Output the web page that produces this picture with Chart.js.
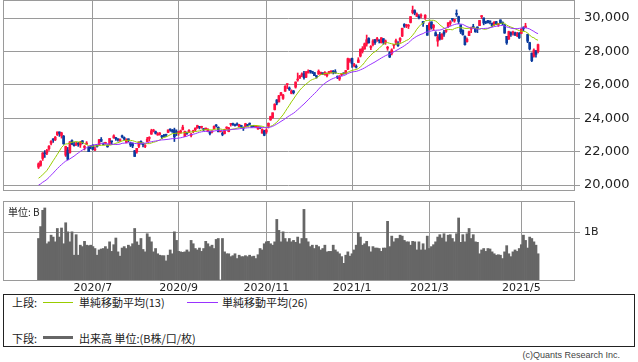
<!DOCTYPE html>
<html lang="ja">
<head>
<meta charset="utf-8">
<title>日経平均 日足</title>
<script src="https://cdn.jsdelivr.net/npm/chart.js@4.4.1/dist/chart.umd.min.js"></script>
<style>
  body { margin: 0; background: #fff; width: 638px; height: 362px; position: relative; overflow: hidden;
         font-family: "Noto Sans CJK JP", "DejaVu Sans", sans-serif; color: #222; }
  canvas { position: absolute; left: 0; }
  #priceChart { top: 0; }
  #volumeChart { top: 196px; }
  .txt { position: absolute; font-size: 11px; line-height: 11px; white-space: nowrap; }
  .unit { left: 8px; top: 207px; font-size: 10px; line-height: 10px; }
  .legend { position: absolute; left: 3px; top: 294px; width: 632px; height: 53px; box-sizing: border-box; border: 1px solid #222; }
  .swatch { position: absolute; }
  .copy { right: 18px; top: 351px; font-family: "Liberation Sans", sans-serif; font-size: 9px; line-height: 9px; color: #444; }
</style>
</head>
<body>
<canvas id="priceChart" width="638" height="192"></canvas>
<canvas id="volumeChart" width="638" height="98"></canvas>
<div class="txt unit">単位: B</div>
<div class="legend"></div>
<div class="txt" style="left:12px;top:297px">上段:</div>
<div class="swatch" style="left:43px;top:302px;width:30px;height:1px;background:#99cc00"></div>
<div class="txt" style="left:79px;top:297px">単純移動平均(13)</div>
<div class="swatch" style="left:187px;top:302px;width:31px;height:1px;background:#9933ff"></div>
<div class="txt" style="left:222px;top:297px">単純移動平均(26)</div>
<div class="txt" style="left:12px;top:333px">下段:</div>
<div class="swatch" style="left:43px;top:336px;width:30px;height:3px;background:#666"></div>
<div class="txt" style="left:79px;top:333px">出来高 単位:(B株/口/枚)</div>
<div class="txt copy">(c)Quants Research Inc.</div>
<script>
// trading days shown, May 26 2020 .. May 18 2021
const tradingDays = [
  ['2020/5', [26,27,28,29]],
  ['2020/6', [1,2,3,4,5,8,9,10,11,12,15,16,17,18,19,22,23,24,25,26,29,30]],
  ['2020/7', [1,2,3,6,7,8,9,10,13,14,15,16,17,20,21,22,27,28,29,30,31]],
  ['2020/8', [3,4,5,6,7,11,12,13,14,17,18,19,20,21,24,25,26,27,28,31]],
  ['2020/9', [1,2,3,4,7,8,9,10,11,14,15,16,17,18,23,24,25,28,29,30]],
  ['2020/10', [1,2,5,6,7,8,9,12,13,14,15,16,19,20,21,22,23,26,27,28,29,30]],
  ['2020/11', [2,4,5,6,9,10,11,12,13,16,17,18,19,20,24,25,26,27,30]],
  ['2020/12', [1,2,3,4,7,8,9,10,11,14,15,16,17,18,21,22,23,24,25,28,29,30]],
  ['2021/1', [4,5,6,7,8,12,13,14,15,18,19,20,21,22,25,26,27,28,29]],
  ['2021/2', [1,2,3,4,5,8,9,10,12,15,16,17,18,19,22,24,25,26]],
  ['2021/3', [1,2,3,4,5,8,9,10,11,12,15,16,17,18,19,22,23,24,25,26,29,30,31]],
  ['2021/4', [1,2,5,6,7,8,9,12,13,14,15,16,19,20,21,22,23,26,27,28,30]],
  ['2021/5', [6,7,10,11,12,13,14,17,18]]
];
const monthLabels = ['2020/7', '2020/9', '2020/11', '2021/1', '2021/3', '2021/5'];

// closes before the first shown day, only used to start the moving averages
const priorCloses = [19550,19290,19897,19669,19281,19138,19429,19262,19783,19771,20194,19619,19675,
                     20179,20391,20366,20267,19915,20037,20134,20433,20595,20552,20388,20742];

const open = [
  21070,21176,21590,21932,
  21910,22170,22500,22750,22704,23012,23175,22960,22925,21787,22090,21931,22662,22394,22379,22439,22397,22645,22250,22448,22278,22317,
  22391,22098,22327,22420,22735,22501,22493,22398,22455,22626,22820,22835,22727,22650,22931,22835,22548,22766,22528,22488,22050,
  21978,22320,22618,22491,22307,22597,22789,23047,23234,23198,23000,23023,22945,22940,22990,23150,23352,23222,23306,23185,
  23120,23150,23320,22900,23159,23161,22966,23193,23304,23417,23468,23450,23376,23357,23218,23206,23178,23380,23575,23460,
  23185,23059,23080,23404,23195,23629,23634,23618,23640,23491,23574,23432,23503,23580,23677,23538,23552,23481,23358,23448,23105,23247,
  23171,23521,23902,24037,24515,25095,24972,25412,25187,25615,26013,25809,25491,25633,25861,26284,26397,26588,26670,
  26456,26720,26827,26773,26733,26539,26643,26672,26720,26619,26546,26738,26774,26792,26784,26496,26342,26618,26694,26694,26936,27436,
  27575,27151,27102,27340,27720,28004,28140,28442,28777,28238,28405,28710,28710,28644,28520,28765,28550,28190,27930,
  27876,28356,28543,28479,28666,28913,29616,29531,29508,29732,30323,30442,30092,30097,30115,29794,30009,29558,
  29323,29769,29433,29119,28613,29015,28744,29158,29201,29488,29681,29931,29822,30226,30079,29589,29259,28894,28586,28949,29334,29464,29379,
  29461,29543,30081,30005,29779,29845,29812,29695,29585,29780,29606,29888,29750,29601,28904,28741,29130,29094,29111,28949,29097,
  29080,29363,29431,29016,28523,27899,27710,28046,28002
];
const high = [
  21328,21456,21942,22062,
  22138,22368,22653,22779,22907,23178,23185,23160,22967,22326,22250,22596,22704,22555,22569,22555,22617,22662,22367,22601,22312,22347,
  22411,22279,22368,22735,22843,22524,22563,22398,22785,22626,23007,22856,22777,22760,22986,22880,22773,22766,22571,22522,22075,
  22197,22592,22650,22528,22424,22854,22893,23339,23338,23233,23140,23146,22976,23035,23034,23302,23364,23330,23406,23302,
  23207,23289,23580,23227,23168,23322,23087,23281,23425,23582,23507,23521,23383,23400,23370,23234,23251,23539,23622,23482,
  23185,23190,23342,23491,23455,23686,23704,23649,23725,23636,23580,23462,23697,23605,23718,23541,23563,23560,23492,23464,23357,23283,
  23361,23722,24121,24325,24867,25114,25370,25554,25433,25960,26057,25874,25698,25661,26178,26706,26561,26716,26805,
  26799,26891,26834,26794,26734,26553,26894,26756,26722,26785,26717,26810,26843,26854,26905,26536,26551,26672,26716,26854,27602,27572,
  27602,27279,27196,27624,28139,28287,28503,28979,28820,28349,28711,28710,28846,28691,28822,28765,28687,28299,27983,
  28157,28406,28734,28595,28821,29388,29664,29626,29615,30084,30714,30492,30306,30211,30252,29804,30200,29558,
  29728,29769,29613,29182,29011,29137,29073,29259,29314,29717,29839,29951,29926,30485,30110,29589,29296,28931,28815,29216,29457,29624,29394,
  29471,29854,30149,30005,29810,29861,29813,29698,29792,29801,29667,29888,29768,29601,28904,29213,29176,29222,29158,29140,29130,
  29360,29478,29685,29031,28550,27906,28147,28052,28441
];
const low = [
  20986,21122,21471,21650,
  21819,22074,22394,22553,22658,22958,22910,22808,22435,21709,21530,21910,22409,22319,22379,22313,22250,22465,22100,22421,21995,22169,
  22095,22060,22261,22407,22585,22400,22434,22258,22418,22439,22799,22665,22619,22607,22823,22691,22523,22590,22301,22235,21710,
  21901,22240,22446,22285,22242,22578,22630,23030,23177,23050,22974,22985,22773,22883,22898,23135,23216,23150,22604,22960,
  22984,23101,23295,22900,23030,23156,22878,23127,23216,23394,23357,23397,23248,23299,23185,23002,23124,23356,23470,23185,
  23185,22948,23054,23338,23185,23526,23571,23518,23573,23487,23415,23264,23491,23518,23592,23457,23480,23467,23333,23372,23100,22948,
  23081,23413,23867,23995,24491,24800,24970,25347,25129,25604,25771,25659,25457,25454,25800,26213,26383,26493,26340,
  26430,26704,26694,26670,26547,26397,26625,26609,26613,26583,26477,26657,26700,26649,26690,26370,26259,26540,26638,26646,26900,27340,
  27042,27073,27002,27340,27667,27899,28133,28312,28490,28111,28326,28414,28599,28504,28500,28430,28422,28066,27629,
  27787,28183,28408,28300,28536,28883,29437,29421,29368,29702,30244,30190,30092,29943,30010,29495,29919,28966,
  29277,29333,29263,28930,28308,28681,28712,28895,29132,29434,29554,29804,29744,30096,29655,29070,28976,28379,28557,28949,29124,29399,29141,
  29121,29540,29963,29592,29658,29704,29644,29474,29562,29599,29495,29666,29591,29080,28420,28714,28898,28975,28942,28877,28774,
  29057,29244,29417,28522,28085,27385,27662,27651,27902
];
const close = [
  21271,21419,21916,21877,
  22062,22325,22613,22695,22863,23178,23091,23124,22472,22305,21530,22582,22455,22355,22478,22437,22549,22534,22259,22512,21995,22288,
  22121,22145,22306,22714,22614,22438,22529,22290,22784,22587,22945,22770,22696,22717,22884,22751,22715,22657,22397,22339,21710,
  22195,22573,22514,22418,22329,22750,22843,23249,23289,23096,23051,23110,22880,22920,22985,23296,23290,23208,22882,23139,
  23138,23247,23465,23205,23089,23274,23032,23235,23406,23559,23454,23475,23319,23360,23346,23087,23204,23511,23539,23185,
  23185,23029,23312,23433,23422,23647,23619,23558,23601,23626,23507,23410,23671,23567,23639,23474,23516,23494,23485,23418,23331,22977,
  23295,23695,24105,24325,24839,24905,25349,25520,25385,25906,26014,25728,25634,25527,26165,26296,26537,26644,26433,
  26787,26800,26809,26751,26547,26467,26817,26756,26652,26732,26687,26757,26806,26763,26714,26436,26524,26668,26656,26854,27568,27444,
  27258,27158,27055,27490,28139,28164,28456,28698,28519,28242,28633,28523,28756,28631,28822,28546,28635,28197,27663,
  28091,28362,28646,28341,28779,29388,29505,29562,29520,30084,30467,30292,30236,30017,30156,29671,30168,28966,
  29663,29408,29559,28930,28864,28743,29027,29036,29211,29717,29766,29921,29914,30216,29792,29174,28995,28405,28729,29176,29384,29432,29178,
  29388,29854,30089,29696,29730,29708,29768,29538,29751,29620,29642,29683,29685,29100,28508,29188,29020,29126,28991,29053,28812,
  29331,29357,29518,28608,28147,27448,28084,27824,28406
];
// volume, billions of shares
const volume = [
  0.87,1.12,1.46,1.51,
  0.76,0.80,0.94,0.90,0.80,1.08,0.90,1.09,0.76,1.20,1.01,0.80,1.01,0.52,0.95,0.52,0.73,0.70,0.81,0.73,0.72,0.73,
  0.70,0.66,0.52,0.63,0.65,0.66,0.70,0.65,0.80,0.60,0.74,0.88,0.59,0.50,0.67,0.70,0.66,0.73,0.70,0.76,1.08,
  0.80,0.73,0.87,0.64,0.59,0.97,0.90,0.80,0.59,0.66,0.55,0.52,0.51,0.51,0.40,0.52,0.63,0.55,1.01,0.83,
  0.60,0.59,0.58,0.59,0.63,0.59,0.83,0.76,0.66,0.63,0.67,0.60,0.66,0.81,0.76,0.70,0.73,0.66,0.85,0.87,
  0,0.87,0.59,0.55,0.55,0.49,0.51,0.55,0.45,0.52,0.49,0.49,0.51,0.49,0.52,0.49,0.50,0.45,0.53,0.66,0.63,0.76,
  0.80,0.81,0.76,0.73,0.80,1.27,1.04,0.80,1.01,0.87,0.80,0.87,0.80,0.83,0.79,0.90,0.76,0.87,1.48,
  0.87,0.80,0.70,0.73,0.66,0.73,0.70,0.63,0.66,0.73,0.59,0.60,0.60,0.73,0.63,0.59,0.55,0.49,0.35,0.52,0.59,0.50,
  0.55,0.63,0.73,0.99,0.90,0.73,0.76,0.81,0.70,0.59,0.70,0.67,0.67,0.66,0.60,0.67,0.67,1.23,0.70,
  0.92,0.80,0.87,0.87,0.94,0.92,0.83,0.80,0.80,0.73,0.81,0.80,0.63,0.80,0.63,0.76,0.63,0.92,
  0.66,0.70,0.74,0.80,0.90,0.95,0.88,0.97,0.80,0.94,0.95,0.87,0.80,0.97,1.30,0.79,0.95,0.80,0.97,1.08,0.87,0.95,0.80,
  0.79,0.55,0.63,0.66,0.60,0.66,0.65,0.59,0.55,0.52,0.53,0.52,0.45,0.59,0.72,0.55,0.49,0.59,0.63,0.60,0.66,
  0.74,0.94,0.83,0.67,0.90,0.87,0.80,0.73,0.55
];
const priceTicks = [20000, 22000, 24000, 26000, 28000, 30000];
const volumeTicks = [1];

const RED = '#ff1040';
const BLUE = '#0b3b9e';
const GRID = '#9a9a9a';

const dates = [];
tradingDays.forEach(([ym, days]) => days.forEach(d => dates.push(ym + '/' + d)));
const monthTicks = monthLabels.map(m => dates.findIndex(d => d.startsWith(m + '/')));

function sma(n) {
  const all = priorCloses.concat(close);
  return close.map((c, i) => {
    const end = i + priorCloses.length;
    let s = 0;
    for (let k = end - n + 1; k <= end; k++) s += all[k];
    return s / n;
  });
}
const ma13 = sma(13);
const ma26 = sma(26);

function candleColor(ctx) {
  const i = ctx.dataIndex;
  return close[i] >= open[i] ? RED : BLUE;
}

// x range matches the frame: a little empty room left and right of the candles
const X_MIN = -17;
const X_MAX = 256.2;

// draw the full frame round the plot area
const framePlugin = {
  id: 'frame',
  afterDraw(chart) {
    const a = chart.chartArea;
    const c = chart.ctx;
    c.save();
    c.strokeStyle = GRID;
    c.lineWidth = 1;
    c.strokeRect(a.left + 0.5, a.top + 0.5, a.right - a.left, a.bottom - a.top);
    c.restore();
  }
};

function fixY(scale) {
  scale.width = 64;
  scale.paddingTop = 0;
  scale.paddingBottom = 0;
}

function xScale(showLabels) {
  return {
    type: 'linear',
    min: X_MIN,
    max: X_MAX,
    offset: false,
    grid: { color: GRID, drawTicks: false, offset: false },
    border: { color: GRID },
    ticks: {
      display: showLabels,
      padding: 2,
      color: '#222',
      font: { family: 'DejaVu Sans', size: 11 },
      callback: (v) => monthLabels[monthTicks.indexOf(v)] || ''
    },
    afterBuildTicks: (s) => { s.ticks = monthTicks.map(v => ({ value: v })); },
    afterFit: (s) => { s.height = showLabels ? 14 : 0; s.paddingLeft = 0; s.paddingRight = 0; }
  };
}

Chart.defaults.animation = false;

new Chart(document.getElementById('priceChart'), {
  type: 'bar',
  data: {
    datasets: [
      {
        type: 'line', data: ma26.map((v, i) => ({ x: i, y: v })),
        borderColor: '#9933ff', borderWidth: 1, pointRadius: 0, tension: 0, order: 0
      },
      {
        type: 'line', data: ma13.map((v, i) => ({ x: i, y: v })),
        borderColor: '#99cc00', borderWidth: 1, pointRadius: 0, tension: 0, order: 0
      },
      {
        data: open.map((o, i) => ({ x: i, y: [o, close[i]] })),
        backgroundColor: candleColor, barThickness: 2, minBarLength: 1, grouped: false, order: 1
      },
      {
        data: low.map((l, i) => ({ x: i, y: [l, high[i]] })),
        backgroundColor: candleColor, barThickness: 1, grouped: false, order: 2
      }
    ]
  },
  options: {
    responsive: false,
    events: [],
    layout: { padding: { left: 3, top: 0, right: 0, bottom: 2 } },
    plugins: { legend: { display: false }, tooltip: { enabled: false } },
    scales: {
      x: xScale(false),
      y: {
        position: 'right',
        min: 19701,
        max: 31078,
        grid: { color: GRID, tickLength: 6 },
        border: { color: GRID },
        ticks: {
          padding: 4,
          color: '#222',
          font: { family: 'DejaVu Sans', size: 13 },
          callback: (v) => v.toLocaleString('en-US')
        },
        afterBuildTicks: (s) => { s.ticks = priceTicks.map(v => ({ value: v })); },
        afterFit: fixY
      }
    }
  },
  plugins: [framePlugin]
});

new Chart(document.getElementById('volumeChart'), {
  type: 'bar',
  data: {
    datasets: [{
      data: volume.map((v, i) => ({ x: i, y: v })),
      backgroundColor: '#666666', barThickness: 2.1, grouped: false
    }]
  },
  options: {
    responsive: false,
    events: [],
    layout: { padding: { left: 3, top: 5, right: 0, bottom: 0 } },
    plugins: { legend: { display: false }, tooltip: { enabled: false } },
    scales: {
      x: xScale(true),
      y: {
        position: 'right',
        min: 0,
        max: 1.656,
        grid: { color: GRID, tickLength: 6 },
        border: { color: GRID },
        ticks: {
          padding: 4,
          color: '#222',
          font: { family: 'DejaVu Sans', size: 11 },
          callback: (v) => v + 'B'
        },
        afterBuildTicks: (s) => { s.ticks = volumeTicks.map(v => ({ value: v })); },
        afterFit: fixY
      }
    }
  },
  plugins: [framePlugin]
});
</script>
</body>
</html>
